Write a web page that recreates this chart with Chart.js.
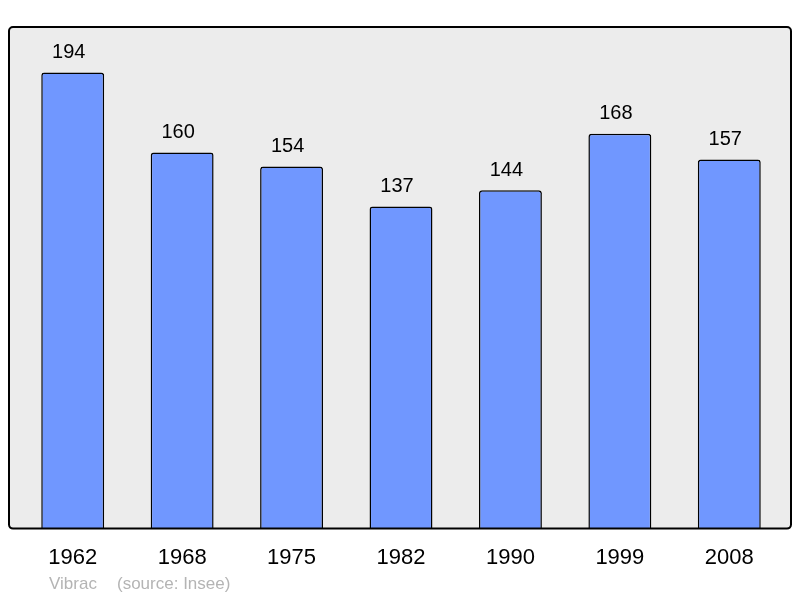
<!DOCTYPE html>
<html>
<head>
<meta charset="utf-8">
<script src="https://cdn.jsdelivr.net/npm/chart.js@4/dist/chart.umd.min.js"></script>
<style>
  html, body { margin: 0; padding: 0; background: #fff; }
  #wrap { width: 800px; height: 598px; }
</style>
</head>
<body>
<div id="wrap"><canvas id="myChart" width="800" height="598"></canvas></div>
<script>
// data
const years = ['1962', '1968', '1975', '1982', '1990', '1999', '2008'];
const population = [194, 160, 154, 137, 144, 168, 157];
const placeName = 'Vibrac';
const sourceText = '(source: Insee)';

const fontFamily = '"Liberation Sans", Arial, sans-serif';

// grey box behind the bars + value labels + footer
const boxPlugin = {
    id: 'boxPlugin',
    beforeDatasetsDraw(chart) {
        const c = chart.ctx;
        const a = chart.chartArea;
        const x0 = a.left - 9, x1 = a.right + 7, y0 = a.top, y1 = a.bottom;
        c.save();
        c.beginPath();
        c.roundRect(x0, y0, x1 - x0, y1 - y0, 4);
        c.fillStyle = '#ececec';
        c.fill();
        c.restore();
    },
    afterDatasetsDraw(chart) {
        const c = chart.ctx;
        const a = chart.chartArea;
        const x0 = a.left - 9, x1 = a.right + 7, y0 = a.top, y1 = a.bottom;
        c.save();
        c.beginPath();
        c.roundRect(x0, y0, x1 - x0, y1 - y0, 4);
        c.lineWidth = 2;
        c.strokeStyle = '#000';
        c.stroke();

        // value labels above bars
        const meta = chart.getDatasetMeta(0);
        c.fillStyle = '#000';
        c.font = '20px ' + fontFamily;
        c.textAlign = 'center';
        c.textBaseline = 'middle';
        meta.data.forEach((bar, i) => {
            c.fillText(String(population[i]), bar.x - 4, bar.y - 20);
        });

        // footer
        c.fillStyle = '#b4b4b4';
        c.font = '17px ' + fontFamily;
        c.textAlign = 'left';
        c.fillText(placeName, 49, 584);
        c.fillText(sourceText, 117, 584);
        c.restore();
    }
};

const ctx = document.getElementById('myChart');

const myChart = new Chart(ctx, {
    type: 'bar',
    data: {
        labels: years,
        datasets: [{
            data: population,
            backgroundColor: '#7097ff',
            borderColor: '#000',
            borderWidth: 1.5,
            borderRadius: { topLeft: 3, topRight: 3 },
            borderSkipped: 'bottom',
            barPercentage: 0.575,
            categoryPercentage: 1
        }]
    },
    options: {
        responsive: false,
        animation: false,
        layout: { padding: { left: 18, right: 16, top: 27, bottom: 19 } },
        plugins: {
            legend: { display: false },
            tooltip: { enabled: false }
        },
        scales: {
            x: {
                grid: { display: false },
                border: { display: false },
                ticks: {
                    color: '#000',
                    padding: 8,
                    font: { family: fontFamily, size: 22 }
                }
            },
            y: {
                display: false,
                min: 0,
                max: 213.4
            }
        }
    },
    plugins: [boxPlugin]
});
</script>
</body>
</html>
